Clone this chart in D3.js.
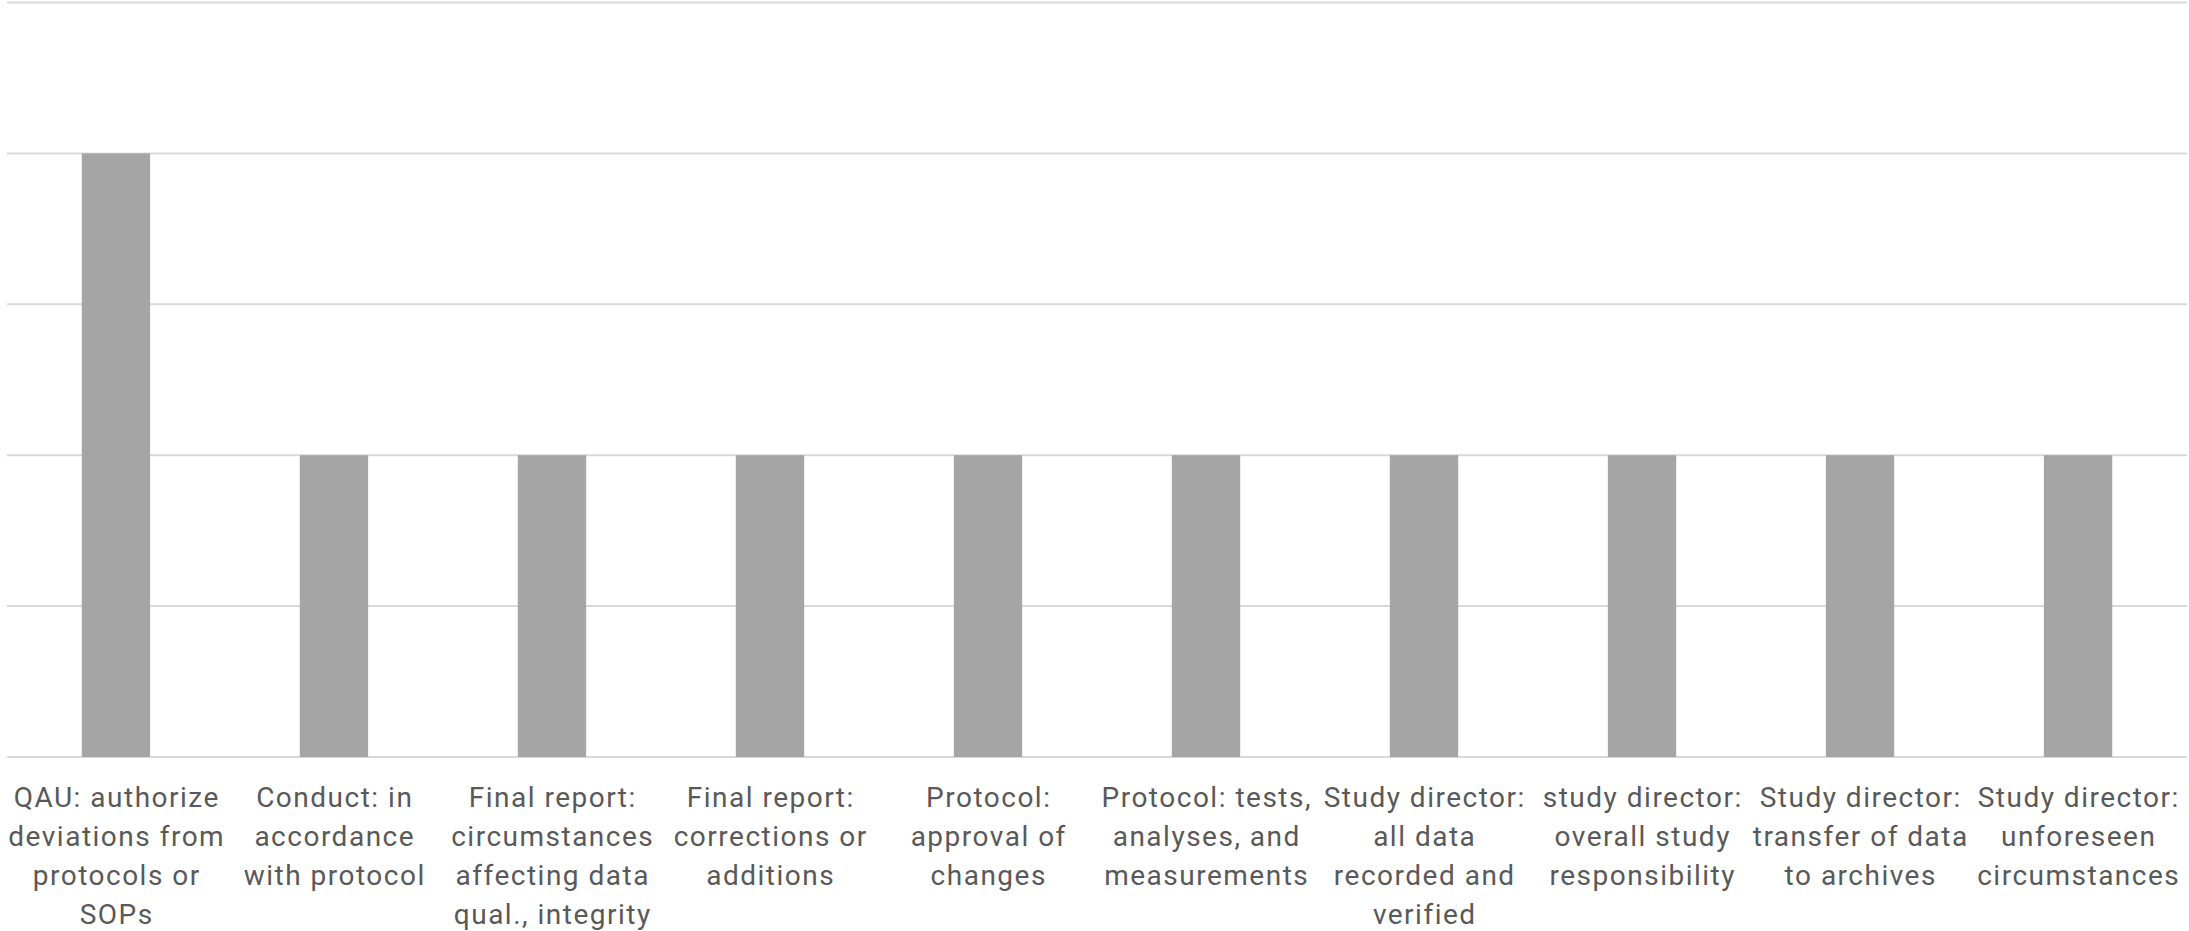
<!DOCTYPE html>
<html><head><meta charset="utf-8">
<script src="https://cdn.jsdelivr.net/npm/d3@7"></script>
<style>html,body{margin:0;padding:0;background:#fff;overflow:hidden}</style>
</head><body>
<svg id="c" width="2189" height="931"></svg>
<script>
const categories = [
  "QAU: authorize\ndeviations from\nprotocols or\nSOPs",
  "Conduct: in\naccordance\nwith protocol",
  "Final report:\ncircumstances\naffecting data\nqual., integrity",
  "Final report:\ncorrections or\nadditions",
  "Protocol:\napproval of\nchanges",
  "Protocol: tests,\nanalyses, and\nmeasurements",
  "Study director:\nall data\nrecorded and\nverified",
  "study director:\noverall study\nresponsibility",
  "Study director:\ntransfer of data\nto archives",
  "Study director:\nunforeseen\ncircumstances"
];
const values = [4, 2, 2, 2, 2, 2, 2, 2, 2, 2];
const yTicks = [0, 1, 2, 3, 4, 5];

(function () {
const svg = d3.select("#c");
const pLeft = 7, pRight = 2187, pTop = 2.5, pBottom = 757;

const x = d3.scaleBand().domain(categories).range([pLeft, pRight]).paddingInner(0.6865).paddingOuter(0.343);
const y = d3.scaleLinear().domain([0, 5]).range([pBottom, pTop]);

svg.append("g").selectAll("line").data(yTicks).join("line")
  .attr("x1", pLeft).attr("x2", pRight)
  .attr("y1", d => y(d)).attr("y2", d => y(d))
  .attr("stroke", "#D9D9D9").attr("stroke-width", 2);

svg.append("g").selectAll("rect").data(values).join("rect")
  .attr("x", (d, i) => x(categories[i]))
  .attr("width", x.bandwidth())
  .attr("y", d => y(d))
  .attr("height", d => y(0) - y(d))
  .attr("fill", "#A5A5A5");

const band = d3.scaleBand().domain(categories).range([pLeft, pRight]);
const lab = svg.append("g").attr("font-family", "Roboto, 'Open Sans', sans-serif")
  .attr("font-size", 28).attr("letter-spacing", "1.5px").attr("fill", "#595959").attr("text-anchor", "middle");
categories.forEach(c => {
  const cx = band(c) + band.bandwidth() / 2 + 0.75;
  const t = lab.append("text").attr("x", cx).attr("y", 807);
  c.split("\n").forEach((ln, j) => {
    t.append("tspan").attr("x", cx).attr("y", 807 + j * 39).text(ln);
  });
});
})();
</script>
</body></html>
